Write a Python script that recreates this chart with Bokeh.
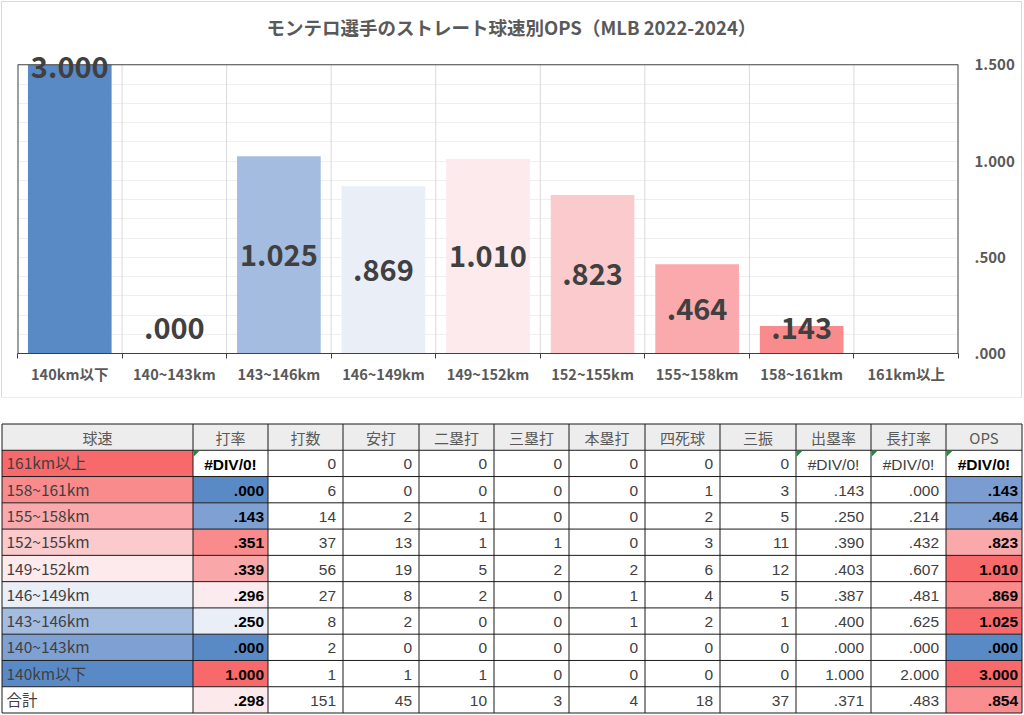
from bokeh.plotting import figure
from bokeh.layouts import column
from bokeh.models import (Range1d, FixedTicker, CustomJSTickFormatter, ColumnDataSource,
                          Title, LabelSet)
from bokeh.core.properties import value
from bokeh.embed import file_html
from bokeh.resources import INLINE

# ---------------- data ----------------
chart_title = "モンテロ選手のストレート球速別OPS（MLB 2022-2024）"
categories = ["140km以下", "140~143km", "143~146km", "146~149km", "149~152km",
              "152~155km", "155~158km", "158~161km", "161km以上"]
ops_values = [3.000, 0.000, 1.025, 0.869, 1.010, 0.823, 0.464, 0.143, 0.0]
ops_labels = ["3.000", ".000", "1.025", ".869", "1.010", ".823", ".464", ".143", ""]
bar_colors = ["#5A8AC6", "#7FA0D3", "#A3BCE0", "#E9EEF7", "#FCEAED",
              "#FBCACD", "#FAAAAC", "#F98B8D", "#F8696B"]
y_ticks = [0.0, 0.5, 1.0, 1.5]
y_max = 1.5

headers = ["球速", "打率", "打数", "安打", "二塁打", "三塁打", "本塁打", "四死球", "三振",
           "出塁率", "長打率", "OPS"]
speeds = ["161km以上", "158~161km", "155~158km", "152~155km", "149~152km",
          "146~149km", "143~146km", "140~143km", "140km以下", "合計"]
avg = ["#DIV/0!", ".000", ".143", ".351", ".339", ".296", ".250", ".000", "1.000", ".298"]
at_bats = [0, 6, 14, 37, 56, 27, 8, 2, 1, 151]
hits = [0, 0, 2, 13, 19, 8, 2, 0, 1, 45]
doubles = [0, 0, 1, 1, 5, 2, 0, 0, 1, 10]
triples = [0, 0, 0, 1, 2, 0, 0, 0, 0, 3]
homers = [0, 0, 0, 0, 2, 1, 1, 0, 0, 4]
walks = [0, 1, 2, 3, 6, 4, 2, 0, 0, 18]
strikeouts = [0, 3, 5, 11, 12, 5, 1, 0, 0, 37]
obp = ["#DIV/0!", ".143", ".250", ".390", ".403", ".387", ".400", ".000", "1.000", ".371"]
slg = ["#DIV/0!", ".000", ".214", ".432", ".607", ".481", ".625", ".000", "2.000", ".483"]
ops = ["#DIV/0!", ".143", ".464", ".823", "1.010", ".869", "1.025", ".000", "3.000", ".854"]

speed_colors = ["#F8696B", "#F98B8D", "#FAAAAC", "#FBCACD", "#FCEAED",
                "#E9EEF7", "#A3BCE0", "#7FA0D3", "#5A8AC6", "#FFFFFF"]
avg_colors = ["#FFFFFF", "#5A8AC6", "#7FA0D3", "#F98B8D", "#FAA7AA",
              "#FCEBEE", "#E9EEF7", "#5A8AC6", "#F8696B", "#FCE9EC"]
ops_colors = ["#FFFFFF", "#7B9CD0", "#7FA0D3", "#FAA9AB", "#F8696B",
              "#F98B8D", "#F8696B", "#5A8AC6", "#F8696B", "#F98D8F"]

JP = "Noto Sans CJK JP"
NUM = "Liberation Sans"
FRAME = "#404040"

# ---------------- chart ----------------
n = len(categories)
p = figure(width=1019, height=395, margin=(2, 0, 0, 2),
           x_range=Range1d(0, n), y_range=Range1d(0, 1.6),
           y_axis_location="right", output_backend="svg", toolbar_location=None,
           min_border_left=15, min_border_right=63, min_border_top=43, min_border_bottom=44,
           styles={"outline": "1px solid #D9D9D9"})
p.frame_align = False
p.title = Title(text=chart_title, align="left", text_font_size="18.5px", text_font_style="bold",
                text_color="#595959", text_font=JP, standoff=12, offset=249)

xs = [i + 0.5 for i in range(n)]
bar_tops = [min(v, y_max) for v in ops_values]
label_y = [1.49 if v > y_max else max(v / 2, 0.135) for v in ops_values]
src = ColumnDataSource(dict(x=xs, top=bar_tops, color=bar_colors, label=ops_labels, ly=label_y))

# vertical category separators and frame (drawn only up to the 1.5 limit)
p.segment(x0=list(range(1, n)), x1=list(range(1, n)), y0=[0] * (n - 1), y1=[y_max] * (n - 1),
          line_color="#D9D9D9", line_width=1)
p.vbar(x="x", top="top", width=0.8, fill_color="color", line_color=None, source=src)
p.segment(x0=[0, n], x1=[0, n], y0=[0, 0], y1=[y_max, y_max], line_color=FRAME, line_width=2)
p.segment(x0=[0], x1=[n], y0=[y_max], y1=[y_max], line_color=FRAME, line_width=1)

p.add_layout(LabelSet(x="x", y="ly", text="label", source=src, text_align="center",
                      text_baseline="middle", text_font=value(JP), text_font_style="bold",
                      text_font_size="29px", text_color="#404040", level="overlay"))

p.xaxis.ticker = FixedTicker(ticks=xs, minor_ticks=list(range(n + 1)))
p.xaxis.formatter = CustomJSTickFormatter(args=dict(labels=categories),
                                          code="return labels[Math.floor(tick)];")
p.xaxis.major_tick_line_color = None
p.xaxis.minor_tick_line_color = FRAME
p.xaxis.minor_tick_out = 5
p.xaxis.minor_tick_in = 0
p.xaxis.axis_line_color = FRAME
p.xaxis.major_label_standoff = 3
p.xaxis.major_label_text_font = JP
p.xaxis.major_label_text_font_style = "bold"
p.xaxis.major_label_text_font_size = "14.5px"
p.xaxis.major_label_text_color = "#595959"

p.yaxis.ticker = FixedTicker(ticks=y_ticks)
p.yaxis.formatter = CustomJSTickFormatter(
    code="var s = tick.toFixed(3); return s.charAt(0) == '0' ? s.slice(1) : s;")
p.yaxis.axis_line_color = None
p.yaxis.major_tick_line_color = None
p.yaxis.minor_tick_line_color = None
p.yaxis.major_label_standoff = 10
p.yaxis.major_label_text_font = JP
p.yaxis.major_label_text_font_style = "bold"
p.yaxis.major_label_text_font_size = "15px"
p.yaxis.major_label_text_color = "#595959"

p.xgrid.visible = False
p.ygrid.ticker = FixedTicker(ticks=[k / 10 for k in range(1, 15)])
p.ygrid.grid_line_color = "#EFEFEF"
p.outline_line_color = None
p.background_fill_color = "white"

# ---------------- table ----------------
T_H = 318
t = figure(width=1024, height=T_H, x_range=Range1d(0, 1024), y_range=Range1d(T_H, 0),
           output_backend="svg", toolbar_location=None, min_border=0,
           x_axis_location=None, y_axis_location=None)
t.frame_align = False
t.grid.visible = False
t.outline_line_color = None

col_edges = [1.5, 192.5, 267.5, 342.5, 418.5, 493.5, 568.5, 644.5, 719.5, 795.5, 870.5, 945.5, 1021.5]
table_top = 26.5
row_h = 289 / 11
n_rows = len(speeds) + 1
row_edges = [table_top + k * row_h for k in range(n_rows + 1)]

columns = [speeds, avg, at_bats, hits, doubles, triples, homers, walks, strikeouts, obp, slg, ops]
bold_cols = {1, 11}

ql, qr, qt, qb, qc = [], [], [], [], []
for c in range(len(headers)):
    ql.append(col_edges[c]); qr.append(col_edges[c + 1])
    qt.append(row_edges[0]); qb.append(row_edges[1]); qc.append("#EDEDED")
for r in range(len(speeds)):
    for c in range(len(headers)):
        if c == 0:
            col = speed_colors[r]
        elif c == 1:
            col = avg_colors[r]
        elif c == 11:
            col = ops_colors[r]
        else:
            col = "#FFFFFF"
        ql.append(col_edges[c]); qr.append(col_edges[c + 1])
        qt.append(row_edges[r + 1]); qb.append(row_edges[r + 2]); qc.append(col)
t.quad(left=ql, right=qr, top=qt, bottom=qb, fill_color=qc, line_color=None)

# grid lines
hx0 = [col_edges[0]] * len(row_edges)
hx1 = [col_edges[-1]] * len(row_edges)
t.segment(x0=hx0, x1=hx1, y0=row_edges, y1=row_edges, line_color="#1A1A1A", line_width=1)
t.segment(x0=col_edges, x1=col_edges, y0=[row_edges[0]] * len(col_edges),
          y1=[row_edges[-1]] * len(col_edges), line_color="#1A1A1A", line_width=1)

# header text
hx = [(col_edges[c] + col_edges[c + 1]) / 2 for c in range(len(headers))]
hy = [(row_edges[0] + row_edges[1]) / 2] * len(headers)
t.text(x=hx, y=hy, text=headers, text_align="center", text_baseline="middle",
       text_font=value(JP), text_font_size="15px", text_color="#595959")

# body text
groups = {}
for r in range(len(speeds)):
    yc = (row_edges[r + 1] + row_edges[r + 2]) / 2
    for c in range(len(headers)):
        s = str(columns[c][r])
        bold = c in bold_cols
        if c == 0:
            key = ("left", JP, "normal", "#404040")
            x = col_edges[c] + 4.5
            dy = -1
        elif s.startswith("#"):
            key = ("center", NUM, "bold" if bold else "normal", "#000000" if bold else "#404040")
            x = (col_edges[c] + col_edges[c + 1]) / 2
            dy = 1
        else:
            key = ("right", NUM, "bold" if bold else "normal", "#000000" if bold else "#404040")
            x = col_edges[c + 1] - (4 if bold else 7)
            dy = 1
        g = groups.setdefault(key, dict(x=[], y=[], text=[]))
        g["x"].append(x); g["y"].append(yc + dy); g["text"].append(s)
for (align, font, style, color), g in groups.items():
    t.text(x=g["x"], y=g["y"], text=g["text"], text_align=align, text_baseline="middle",
           text_font=value(font), text_font_style=style, text_font_size="15.5px",
           text_color=color)

# error indicator triangles (green corner marks on #DIV/0! formula cells)
tri_x, tri_y = [], []
for c in range(1, len(headers)):
    if str(columns[c][0]).startswith("#") and c in (1, 9, 10, 11):
        l = col_edges[c] + 0.5
        tp = row_edges[1] + 0.5
        tri_x.append([l, l + 6, l]); tri_y.append([tp, tp, tp + 6])
t.patches(xs=tri_x, ys=tri_y, fill_color="#1E8C3A", line_color=None)

layout = column(p, t, spacing=0)
open("out.html", "w").write(file_html(layout, INLINE))
